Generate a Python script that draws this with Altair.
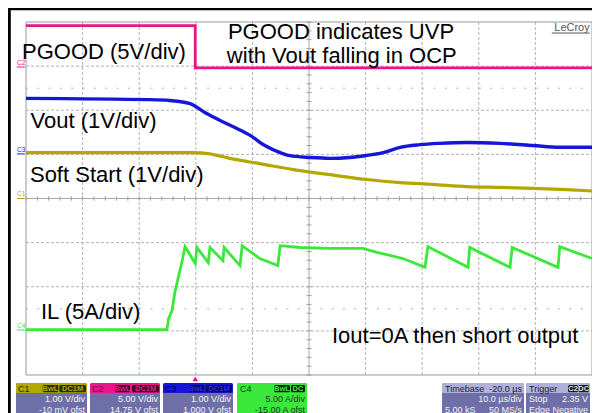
import altair as alt
import pandas as pd
import numpy as np

# ---- data: time in µs (10 µs/div), amplitude in screen divisions (-4..4) ----
pgood_t = [0, 29.9, 29.9, 100]
pgood_d = [3.92, 3.92, 2.96, 2.96]

vout_t = [0, 21.9, 25.4, 29.0, 31.6, 34.3, 36.9, 39.6, 42.2, 44.9, 46.6, 50.2,
          53.7, 57.2, 59.9, 63.1, 66.1, 69.6, 73.1, 77.9, 83.7, 89.6, 94.3, 100]
vout_d = [2.27, 2.24, 2.22, 2.15, 1.95, 1.77, 1.61, 1.43, 1.20, 1.04, 0.97, 0.93,
          0.91, 0.93, 0.97, 1.04, 1.16, 1.22, 1.25, 1.27, 1.25, 1.20, 1.16, 1.16]

ss_t = [0, 29.5, 32.5, 36.0, 41.3, 48.4, 53.7, 60.2, 66.1, 71.9, 77.9, 83.7, 89.6, 95.6, 100]
ss_d = [1.04, 1.04, 1.01, 0.91, 0.79, 0.63, 0.54, 0.43, 0.36, 0.32, 0.27, 0.25, 0.23, 0.20, 0.17]

il_t = [0, 24.9, 25.2, 25.8, 26.3, 26.9, 27.6, 28.1, 29.9, 30.2, 32.2, 32.5, 34.8, 35.0,
        37.8, 38.2, 41.3, 44.5, 44.9, 48.4, 53.7, 56.0, 59.5, 62.0, 66.6, 70.5, 71.0,
        78.1, 78.4, 85.5, 85.9, 94.0, 94.3, 100]
il_d = [-2.97, -2.97, -2.72, -2.54, -2.13, -1.79, -1.41, -1.09, -1.47, -1.11, -1.45, -1.11,
        -1.41, -1.11, -1.52, -1.07, -1.36, -1.52, -1.07, -1.11, -1.13, -1.13, -1.13, -1.22,
        -1.36, -1.56, -1.09, -1.56, -1.11, -1.56, -1.11, -1.56, -1.09, -1.36]

MAG, BLU, OLV, GRN = "#e8168a", "#1616d8", "#b4a800", "#3ae83a"
FONT = "Liberation Sans"

xsc = alt.Scale(domain=[0, 100], nice=False, zero=False)
ysc = alt.Scale(domain=[-4, 4], nice=False, zero=False)
def X(f): return alt.X(f"{f}:Q", scale=xsc, axis=None)
def Y(f): return alt.Y(f"{f}:Q", scale=ysc, axis=None)
def X2(f): return alt.X2(f"{f}:Q")
def Y2(f): return alt.Y2(f"{f}:Q")

layers = []

# ---- graticule ----
GRID = "#b2b2b2"
vgrid = pd.DataFrame({"t": [10, 20, 30, 40, 60, 70, 80, 90], "d0": -4, "d1": 4})
layers.append(alt.Chart(vgrid).mark_rule(color=GRID, strokeDash=[3, 2], strokeWidth=1)
              .encode(x=X("t"), y=Y("d0"), y2=Y2("d1")))
hgrid = pd.DataFrame({"d": [-3, -2, -1, 1, 2, 3], "t0": 0, "t1": 100})
layers.append(alt.Chart(hgrid).mark_rule(color=GRID, strokeDash=[3, 2], strokeWidth=1)
              .encode(y=Y("d"), x=X("t0"), x2=X2("t1")))
dgrid = pd.DataFrame({"d": [2.5, -2.5], "t0": 0, "t1": 100})
layers.append(alt.Chart(dgrid).mark_rule(color="#b0b0b0", strokeDash=[2, 9.32], strokeWidth=1)
              .encode(y=Y("d"), x=X("t0"), x2=X2("t1")))
cx = pd.DataFrame({"t": [50], "d0": -4, "d1": 4})
layers.append(alt.Chart(cx).mark_rule(color="#a8a8a8", strokeWidth=1)
              .encode(x=X("t"), y=Y("d0"), y2=Y2("d1")))
cy = pd.DataFrame({"d": [0], "t0": 0, "t1": 100})
layers.append(alt.Chart(cy).mark_rule(color="#a8a8a8", strokeWidth=1)
              .encode(y=Y("d"), x=X("t0"), x2=X2("t1")))
htick = pd.DataFrame({"t": np.arange(0, 100.01, 2.0), "d0": -0.05, "d1": 0.05})
layers.append(alt.Chart(htick).mark_rule(color="#a0a0a0", strokeWidth=1)
              .encode(x=X("t"), y=Y("d0"), y2=Y2("d1")))
vtick = pd.DataFrame({"d": np.arange(-4, 4.01, 0.2), "t0": 49.55, "t1": 50.45})
layers.append(alt.Chart(vtick).mark_rule(color="#a0a0a0", strokeWidth=1)
              .encode(y=Y("d"), x=X("t0"), x2=X2("t1")))
border = pd.DataFrame({"t0": [0], "t1": [100], "d0": [-4], "d1": [4]})
layers.append(alt.Chart(border).mark_rect(fill=None, stroke="#9a9a9a", strokeWidth=1)
              .encode(x=X("t0"), x2=X2("t1"), y=Y("d0"), y2=Y2("d1")))

# black frame of the screenshot
frame_h = pd.DataFrame({"d": [4.30], "t0": -3.2, "t1": 101.5})
layers.append(alt.Chart(frame_h).mark_rule(color="#000000", strokeWidth=3)
              .encode(y=Y("d"), x=X("t0"), x2=X2("t1")))
frame_v = pd.DataFrame({"t": [-2.95], "d0": 4.33, "d1": -5.0})
layers.append(alt.Chart(frame_v).mark_rule(color="#000000", strokeWidth=3)
              .encode(x=X("t"), y=Y("d0"), y2=Y2("d1")))

# ---- traces ----
def trace(t, d, color, interp="linear", w=3.0):
    df = pd.DataFrame({"t": t, "d": d, "i": range(len(t))})
    return (alt.Chart(df).mark_line(color=color, strokeWidth=w, interpolate=interp)
            .encode(x=X("t"), y=Y("d"), order="i:Q"))

layers.append(trace(ss_t, ss_d, OLV, "monotone", 3.2))
layers.append(trace(vout_t, vout_d, BLU, "monotone", 3.4))
layers.append(trace(pgood_t, pgood_d, MAG, "linear", 2.8))
layers.append(trace(il_t, il_d, GRN, "linear", 2.8))

# ---- annotations ----
ann_left = pd.DataFrame({
    "text": ["PGOOD (5V/div)", "Vout (1V/div)", "Soft Start (1V/div)", "IL (5A/div)",
             "Iout=0A then short output"],
    "t": [-0.7, 0.8, 0.7, 2.65, 54.06],
    "d": [3.16, 1.60, 0.38, -2.73, -3.27],
})
layers.append(alt.Chart(ann_left).mark_text(align="left", baseline="alphabetic", font=FONT,
                                            fontSize=22, color="#000000")
              .encode(x=X("t"), y=Y("d"), text="text:N"))
ann_center = pd.DataFrame({
    "text": ["PGOOD indicates UVP", "with Vout falling in OCP"],
    "t": [55.65, 55.8],
    "d": [3.61, 3.08],
})
layers.append(alt.Chart(ann_center).mark_text(align="center", baseline="alphabetic", font=FONT,
                                              fontSize=22, color="#000000")
              .encode(x=X("t"), y=Y("d"), text="text:N"))

# LeCroy logo
logo = pd.DataFrame({"text": ["LeCroy"], "t": [99.6], "d": [3.80]})
layers.append(alt.Chart(logo).mark_text(align="right", baseline="alphabetic", font=FONT,
                                        fontSize=11, color="#555555")
              .encode(x=X("t"), y=Y("d"), text="text:N"))
logo_u = pd.DataFrame({"d": [3.75], "t0": 92.9, "t1": 99.6})
layers.append(alt.Chart(logo_u).mark_rule(color="#555555", strokeWidth=1)
              .encode(y=Y("d"), x=X("t0"), x2=X2("t1")))

# channel offset markers
marks = pd.DataFrame({"text": ["C2", "C3", "C1", "C4"], "t": -1.59,
                      "d": [3.03, 1.06, 0.05, -2.93], "c": [MAG, BLU, OLV, GRN]})
layers.append(alt.Chart(marks).mark_text(align="left", baseline="alphabetic", font=FONT,
                                         fontSize=6.5)
              .encode(x=X("t"), y=Y("d"), text="text:N", color=alt.Color("c:N", scale=None)))
marks_u = marks.assign(d=marks["d"] - 0.05, t0=-1.59, t1=-0.2)
layers.append(alt.Chart(marks_u).mark_rule(strokeWidth=1)
              .encode(y=Y("d"), x=X("t0"), x2=X2("t1"), color=alt.Color("c:N", scale=None)))

# trigger position marker
trig = pd.DataFrame({"t": [29.9], "d": [-4.09]})
layers.append(alt.Chart(trig).mark_point(shape="triangle-up", filled=True, size=30,
                                         color=MAG, opacity=1)
              .encode(x=X("t"), y=Y("d")))

# ---- info panels below the grid ----
BODY = "#6e6ea8"
panels = pd.DataFrame({
    "t0": [-1.77, 11.31, 24.20, 37.28, 73.50, 88.34],
    "t1": [10.78, 23.67, 36.57, 49.65, 87.99, 99.65],
    "body": [BODY, BODY, BODY, GRN, BODY, BODY],
    "head": [OLV, MAG, BLU, GRN, "#b0b0da", "#b0b0da"],
    "d0": -4.18, "dm": -4.41, "d1": -4.95,
})
layers.append(alt.Chart(panels).mark_rect(cornerRadius=2)
              .encode(x=X("t0"), x2=X2("t1"), y=Y("d0"), y2=Y2("d1"),
                      color=alt.Color("body:N", scale=None)))
layers.append(alt.Chart(panels).mark_rect(cornerRadiusTopLeft=2, cornerRadiusTopRight=2)
              .encode(x=X("t0"), x2=X2("t1"), y=Y("d0"), y2=Y2("dm"),
                      color=alt.Color("head:N", scale=None)))

badges = pd.DataFrame({
    "text": ["BwL", "DC1M", "BwL", "DC1M", "BwL", "DC1M", "BwL", "DC", "C2", "DC"],
    "t0": [2.95, 5.88, 15.72, 18.73, 28.80, 31.80, 43.82, 46.82, 95.76, 97.61],
    "t1": [5.71, 10.60, 18.37, 23.50, 31.45, 36.40, 46.64, 49.29, 97.53, 99.47],
    "bg": ["#2a2a10", "#2a2a10", "#3a0a22", "#3a0a22", "#0a0a50", "#0a0a50",
           "#1a1a1a", "#1a1a1a", "#1a1a1a", "#1a1a1a"],
    "fg": [OLV, OLV, MAG, MAG, "#2a2ae0", "#2a2ae0", GRN, GRN, "#e0e0e0", "#e0e0e0"],
    "d0": -4.225, "d1": -4.39,
})
badges["tm"] = (badges["t0"] + badges["t1"]) / 2
badges["dt"] = -4.365
layers.append(alt.Chart(badges).mark_rect(cornerRadius=1.5)
              .encode(x=X("t0"), x2=X2("t1"), y=Y("d0"), y2=Y2("d1"),
                      color=alt.Color("bg:N", scale=None)))
layers.append(alt.Chart(badges).mark_text(align="center", baseline="alphabetic", font=FONT,
                                          fontSize=7.5, fontWeight="bold")
              .encode(x=X("tm"), y=Y("dt"), text="text:N", color=alt.Color("fg:N", scale=None)))

ptext_left = pd.DataFrame({
    "text": ["C1", "C2", "C3", "C4", "Timebase", "Trigger", "5.00 kS", "Stop", "Edge"],
    "t": [-1.41, 11.66, 24.56, 37.81, 74.03, 88.87, 74.03, 88.87, 88.87],
    "d": [-4.374, -4.374, -4.374, -4.374, -4.374, -4.374, -4.850, -4.623, -4.850],
    "c": ["#2a2a00", "#7a0a40", "#00006a", "#1a3a1a", "#222233", "#222233",
          "#f4f4f4", "#f4f4f4", "#f4f4f4"],
})
layers.append(alt.Chart(ptext_left).mark_text(align="left", baseline="alphabetic", font=FONT,
                                              fontSize=9)
              .encode(x=X("t"), y=Y("d"), text="text:N", color=alt.Color("c:N", scale=None)))
ptext_right = pd.DataFrame({
    "text": ["1.00 V/div", "-10 mV ofst", "5.00 V/div", "14.75 V ofst", "1.00 V/div",
             "1.000 V ofst", "5.00 A/div", "-15.00 A ofst", "-20.0 µs", "10.0 µs/div",
             "50 MS/s", "2.35 V", "Negative"],
    "t": [10.42, 10.42, 23.32, 23.32, 36.22, 36.22, 49.29, 49.29, 87.63, 87.63, 87.63,
          99.29, 99.29],
    "d": [-4.623, -4.850, -4.623, -4.850, -4.623, -4.850, -4.623, -4.850, -4.374, -4.623,
          -4.850, -4.623, -4.850],
    "c": ["#f4f4f4"] * 6 + ["#1a3a1a", "#1a3a1a", "#222233"] + ["#f4f4f4"] * 4,
})
layers.append(alt.Chart(ptext_right).mark_text(align="right", baseline="alphabetic", font=FONT,
                                               fontSize=9)
              .encode(x=X("t"), y=Y("d"), text="text:N", color=alt.Color("c:N", scale=None)))

chart = (alt.layer(*layers)
         .properties(width=566, height=353, background="#ffffff",
                     autosize=alt.AutoSizeParams(type="none"),
                     padding={"left": 18, "top": 14, "right": 0, "bottom": 38})
         .configure_view(stroke=None))

chart.save("out.html", embed_options={"renderer": "svg", "actions": False})
